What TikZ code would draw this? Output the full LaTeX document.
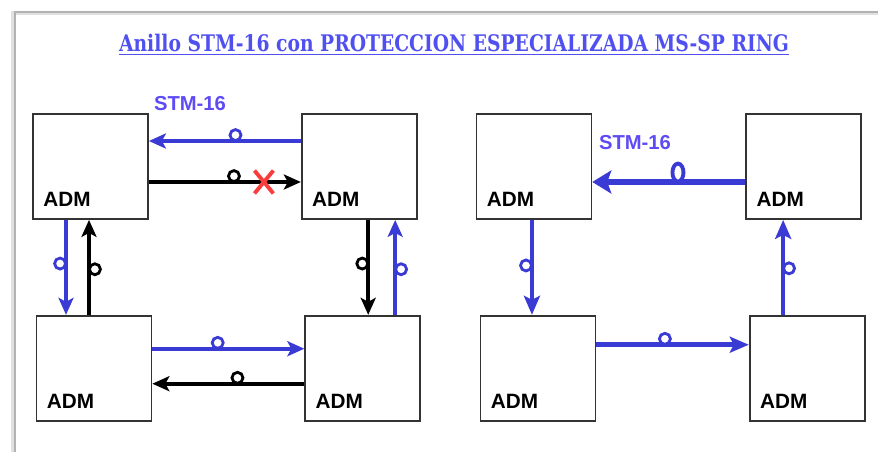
\documentclass[tikz,border=0pt]{standalone}
\usepackage{fontspec}
\setsansfont{Liberation Sans}
\newfontfamily\titlefont[FakeStretch=0.82]{DejaVu Serif}
\usetikzlibrary{arrows.meta,positioning,shapes.misc,shapes.geometric}
\definecolor{ringblue}{RGB}{58,58,212}
\definecolor{labelblue}{RGB}{95,75,245}
\definecolor{titleblue}{RGB}{80,80,240}
\definecolor{failred}{RGB}{250,60,60}

\begin{document}
\begin{tikzpicture}[x=0.02cm, y=-0.02cm,
    adm/.style={draw=black!80, line width=1pt, minimum width=2.3cm, minimum height=2.1cm, inner sep=0pt,
        label={[anchor=base west, inner sep=0pt, font=\sffamily\bfseries\fontsize{11.8}{12}\selectfont, xshift=0.22cm, yshift=0.27cm]south west:ADM}},
    link/.style={line width=2.2pt, -{Stealth[length=0.34cm, width=0.3cm, inset=0.08cm]}},
    fat/.style={line width=3.6pt, -{Stealth[length=0.38cm, width=0.46cm, inset=0.08cm]}},
    mid/.style={line width=2.6pt, -{Stealth[length=0.38cm, width=0.32cm, inset=0.08cm]}},
    hoop/.style={circle, draw, fill=white, line width=1.6pt, minimum size=0.22cm, inner sep=0pt},
    oval/.style={ellipse, draw=ringblue, fill=white, line width=2.2pt, minimum width=0.22cm, minimum height=0.36cm, inner sep=0pt},
    xmark/.style={cross out, draw=failred, line width=2.2pt, minimum width=0.3cm, minimum height=0.38cm, inner sep=0pt},
    stm/.style={font=\sffamily\bfseries\fontsize{11.5}{12}\selectfont, text=labelblue, inner sep=0pt}
]
\useasboundingbox (0,0) rectangle (878,452);
\draw[black!12, line width=2pt] (13,452) -- (13,13) -- (878,13);
\draw[black!30, line width=0.8pt] (15,452) -- (15,12) -- (878,12);

\node[font=\titlefont\bfseries\fontsize{13}{15}\selectfont, text=titleblue, inner sep=0pt, anchor=base] (title) at (454,52) {Anillo STM-16 con PROTECCION ESPECIALIZADA MS-SP RING};
\draw[titleblue, line width=1pt] ([yshift=-0.05cm]title.base west) -- ([yshift=-0.05cm]title.base east);

\node[adm] (ltl) at (90.5,166.5) {};
\node[adm, right=3.04cm of ltl] (ltr) {};
\node[adm, below=1.9cm of ltl, xshift=0.07cm] (lbl) {};
\node[adm, below=1.9cm of ltr, xshift=0.07cm] (lbr) {};
\node[adm, right=1.16cm of ltr] (rtl) {};
\node[adm, right=3.06cm of rtl] (rtr) {};
\node[adm, below=1.9cm of rtl, xshift=0.08cm] (rbl) {};
\node[adm, below=1.9cm of rtr, xshift=0.07cm] (rbr) {};

\node[stm] (stmleft) at (190,104) {STM-16};
\node[stm] (stmright) at (635,143) {STM-16};

\draw[link, ringblue] ([yshift=0.51cm]ltr.west) -- node[hoop, draw=ringblue, anchor=south, pos=0.43, yshift=-0.02cm] {} ([yshift=0.51cm]ltl.east);
\draw[link] ([yshift=-0.31cm]ltl.east) -- node[hoop, anchor=south, pos=0.56, yshift=-0.02cm] {} node[xmark, pos=0.757] {} ([yshift=-0.31cm]ltr.west);
\draw[link, ringblue] ([xshift=-0.49cm]ltl.south) -- node[hoop, draw=ringblue, anchor=east, pos=0.46, xshift=0.02cm] {} ([xshift=-0.49cm]ltl.south |- lbl.north);
\draw[link] ([xshift=-0.03cm]ltl.south |- lbl.north) -- node[hoop, anchor=west, pos=0.48, xshift=-0.02cm] {} ([xshift=-0.03cm]ltl.south);
\draw[link] ([xshift=0.18cm]ltr.south) -- node[hoop, anchor=east, pos=0.46, xshift=0.02cm] {} ([xshift=0.18cm]ltr.south |- lbr.north);
\draw[link, ringblue] ([xshift=0.72cm]ltr.south |- lbr.north) -- node[hoop, draw=ringblue, anchor=west, pos=0.48, xshift=-0.02cm] {} ([xshift=0.72cm]ltr.south);
\draw[link, ringblue] ([yshift=0.39cm]lbl.east) -- node[hoop, draw=ringblue, anchor=south, pos=0.43, yshift=-0.02cm] {} ([yshift=0.39cm]lbl.east -| lbr.west);
\draw[link] ([yshift=-0.31cm]lbr.west) -- node[hoop, anchor=south, pos=0.44, yshift=-0.02cm] {} ([yshift=-0.31cm]lbr.west -| lbl.east);

\draw[fat, ringblue] ([yshift=-0.31cm]rtr.west) -- node[oval, anchor=south, pos=0.44, yshift=-0.03cm] {} ([yshift=-0.31cm]rtl.east);
\draw[mid, ringblue] ([xshift=-0.04cm]rtl.south) -- node[hoop, draw=ringblue, anchor=east, pos=0.48, xshift=0.02cm] {} ([xshift=-0.04cm]rtl.south |- rbl.north);
\draw[mid, ringblue] ([yshift=0.47cm]rbl.east) -- node[hoop, draw=ringblue, anchor=south, pos=0.45, yshift=-0.02cm] {} ([yshift=0.47cm]rbl.east -| rbr.west);
\draw[mid, ringblue] ([xshift=-0.41cm]rtr.south |- rbr.north) -- node[hoop, draw=ringblue, anchor=west, pos=0.49, xshift=-0.02cm] {} ([xshift=-0.41cm]rtr.south);
\end{tikzpicture}
\end{document}
